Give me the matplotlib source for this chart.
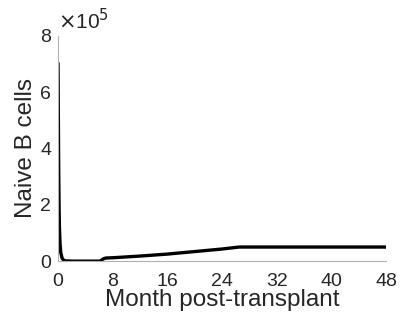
import matplotlib
matplotlib.use("Agg")
import matplotlib.pyplot as plt

plt.rcParams['font.family'] = ['Liberation Sans', 'DejaVu Sans']

# Naive B cell counts (x 1e5) over months after transplant
months = [0, 0.05, 0.1, 0.15, 0.2, 0.3, 0.4, 0.6, 0.8, 1.0, 2.0, 4.0, 6.2, 6.6, 7.0,
          8, 12, 16, 20, 24, 26.5, 30, 40, 48]
naive_b = [7.0, 5.0, 3.2, 2.0, 1.2, 0.6, 0.3, 0.1, 0.04, 0.01, 0.0, 0.0, 0.0, 0.08, 0.11,
           0.12, 0.18, 0.25, 0.34, 0.43, 0.5, 0.5, 0.5, 0.5]
x_ticks = [0, 8, 16, 24, 32, 40, 48]
y_ticks = [0, 2, 4, 6, 8]

fig = plt.figure(figsize=(4.03, 3.26), dpi=100)
ax = fig.add_axes([0.144, 0.199, 0.814, 0.691])

ax.plot(months, naive_b, color='black', linewidth=2.4, solid_joinstyle='round')

ax.set_xlim(0, 48)
ax.set_ylim(0, 8)
ax.set_xticks(x_ticks)
ax.set_yticks(y_ticks)
ax.tick_params(length=0, labelsize=14, colors='#262626')
ax.tick_params(axis='x', pad=8.5)
ax.tick_params(axis='y', pad=5)

for side in ('top', 'right'):
    ax.spines[side].set_visible(False)
for side in ('left', 'bottom'):
    ax.spines[side].set_color('#b0b0b0')
    ax.spines[side].set_linewidth(0.8)

ax.set_xlabel('Month post-transplant', fontsize=17.5, color='#262626', labelpad=-1)
ax.set_ylabel('Naive B cells', fontsize=17.5, color='#262626', labelpad=2)
ax.text(0.0, 1.01, r'$\times$10$^5$', transform=ax.transAxes, fontsize=15,
        color='#262626', ha='left', va='bottom')

fig.savefig('out.png', dpi=100)
